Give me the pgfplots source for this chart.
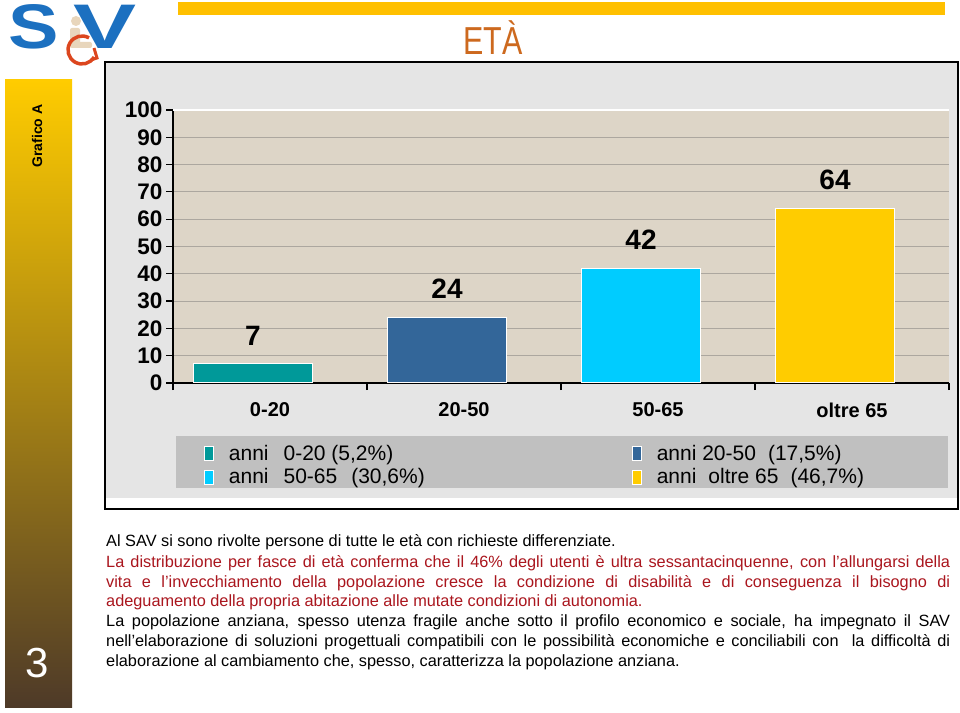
\documentclass[border=0pt]{standalone}
\usepackage{fontspec}
\setmainfont{Liberation Sans}
\newfontfamily\titfont[FakeStretch=0.78]{Liberation Sans}
\usepackage{pgfplots}
\pgfplotsset{compat=1.18}
\definecolor{topbar}{RGB}{255,192,0}
\definecolor{titc}{RGB}{205,105,30}
\definecolor{logoblue}{RGB}{28,112,192}
\definecolor{logored}{RGB}{220,70,30}
\definecolor{logobeige}{RGB}{232,214,188}
\definecolor{sideTop}{RGB}{255,204,0}
\definecolor{sideMid}{RGB}{200,155,22}
\definecolor{sideBot}{RGB}{78,58,40}
\definecolor{framebg}{RGB}{229,229,229}
\definecolor{legbg}{RGB}{192,192,192}
\definecolor{plotbg}{RGB}{221,213,199}
\definecolor{gridc}{RGB}{172,167,159}
\definecolor{cA}{RGB}{0,153,153}
\definecolor{cB}{RGB}{51,102,153}
\definecolor{cC}{RGB}{0,204,255}
\definecolor{cD}{RGB}{255,204,0}
\definecolor{redtxt}{RGB}{170,22,30}
\begin{document}
\begin{tikzpicture}[x=1pt,y=1pt]
\fill[white] (0,0) rectangle (960,712);
\useasboundingbox (0,0) rectangle (960,712);
% top yellow bar
\fill[topbar] (178,697) rectangle (945,710);
% logo
\node[inner sep=0pt, text=logoblue, font=\bfseries\fontsize{63}{63}\selectfont] at (34,685) {\scalebox{1.2}[1]{S}};
\node[inner sep=0pt, text=logoblue, font=\bfseries\fontsize{63}{63}\selectfont] at (105.5,685) {\scalebox{1.5}[1]{V}};
\fill[logobeige] (76,691) circle (5);
\fill[logobeige, rounded corners=2pt] (70,684) rectangle (80,668);
\fill[logobeige, rounded corners=2pt] (70,670) rectangle (92,664);
\draw[logored, line width=3.5pt] (82,662) ++(60:14) arc (60:330:14);
\draw[logored, line width=3pt] (94,664) -- (97,654) -- (91,652);
% title
\node[text=titc, font=\titfont\fontsize{39}{39}\selectfont] at (493,674) {ETÀ};
% side bar
\shade[top color=sideTop, middle color=sideMid, bottom color=sideBot] (5,5) rectangle (72,632);
\node[rotate=90, font=\bfseries\fontsize{14}{14}\selectfont] at (37,576) {Grafico A};
\node[text=white, font=\fontsize{42}{42}\selectfont] at (37,49) {3};
% chart frame
\filldraw[fill=framebg, draw=black, line width=1.2pt] (105,203) rectangle (958,650);
\fill[white] (106,204) rectangle (957,214);
\fill[legbg] (176,224) rectangle (948,276);
\begin{axis}[
  at={(173pt,329pt)}, anchor=south west,
  scale only axis, width=776pt, height=273pt,
  xmin=0, xmax=4, ymin=0, ymax=100,
  axis background/.style={fill=plotbg},
  axis x line*=bottom, axis y line*=left,
  axis line style={-, black, line width=1.5pt},
  /pgf/number format/assume math mode=true,
  ytick={0,10,...,90},
  extra y ticks={100}, extra y tick labels={100},
  extra y tick style={major grid style={white, line width=1.5pt}},
  ymajorgrids, major grid style={draw=gridc, line width=1pt},
  ytick style={black, line width=1.2pt},
  xtick={0.5,1.5,2.5,3.5}, xticklabels={0-20,20-50,50-65,oltre 65},
  minor xtick={0,1,2,3,4},
  major x tick style={draw=none},
  minor x tick style={black, line width=1.2pt},
  tick align=outside, major tick length=7pt, minor tick length=7pt,
  yticklabel style={font=\bfseries\fontsize{22.5}{22.5}\selectfont},
  xticklabel style={font=\bfseries\fontsize{20}{20}\selectfont, yshift=-9pt},
  every node near coord/.append style={font=\bfseries\fontsize{28}{28}\selectfont, text=black, xshift=-17pt, yshift=15pt},
  mybar/.style={ybar, bar width=119pt, bar shift=-17pt, draw=white, line width=1pt, nodes near coords,
    legend image code/.code={\draw[##1, draw=white, line width=0.8pt] (0pt,-4.5pt) rectangle (9pt,9.5pt); \path (24pt,0pt);}},
  legend columns=2,
  legend cell align=left,
  legend style={at={(rel axis cs:0,0)}, anchor=north west, xshift=31pt, yshift=-62pt,
    draw=none, fill=none, inner sep=0pt, outer sep=0pt, row sep=1.5pt,
    font=\fontsize{21}{21}\selectfont,
    nodes={inner sep=0pt, text height=15pt, text depth=7pt}},
]
\addplot[mybar, fill=cA] coordinates {(0.5,7)};
\addlegendentry{\makebox[403pt][l]{anni\hspace{15pt}0-20 (5,2\%)}}
\addplot[mybar, fill=cB] coordinates {(1.5,24)};
\addlegendentry{\makebox[300pt][l]{anni 20-50\hspace{12pt}(17,5\%)}}
\addplot[mybar, fill=cC] coordinates {(2.5,42)};
\addlegendentry{\makebox[403pt][l]{anni\hspace{15pt}50-65\hspace{14pt}(30,6\%)}}
\addplot[mybar, fill=cD] coordinates {(3.5,64)};
\addlegendentry{\makebox[300pt][l]{anni\hspace{12pt}oltre 65\hspace{12pt}(46,7\%)}}
\end{axis}
% body text
\begin{scope}[every node/.style={anchor=base west, inner sep=0pt, font=\fontsize{16.3}{19}\selectfont}]
\node at (106,165) {Al SAV si sono rivolte persone di tutte le età con richieste differenziate.};
\node[text=redtxt] at (106,145) {\makebox[844pt][s]{La distribuzione per fasce di età conferma che il 46\% degli utenti è ultra sessantacinquenne, con l’allungarsi della}};
\node[text=redtxt] at (106,125) {\makebox[844pt][s]{vita e l’invecchiamento della popolazione cresce la condizione di disabilità e di conseguenza il bisogno di}};
\node[text=redtxt] at (106,105.5) {adeguamento della propria abitazione alle mutate condizioni di autonomia.};
\node at (106,85.5) {\makebox[844pt][s]{La popolazione anziana, spesso utenza fragile anche sotto il profilo economico e sociale, ha impegnato il SAV}};
\node at (106,65.5) {\makebox[844pt][s]{nell’elaborazione di soluzioni progettuali compatibili con le possibilità economiche e conciliabili con\ \ la difficoltà di}};
\node at (106,46) {elaborazione al cambiamento che, spesso, caratterizza la popolazione anziana.};
\end{scope}
\end{tikzpicture}
\end{document}
